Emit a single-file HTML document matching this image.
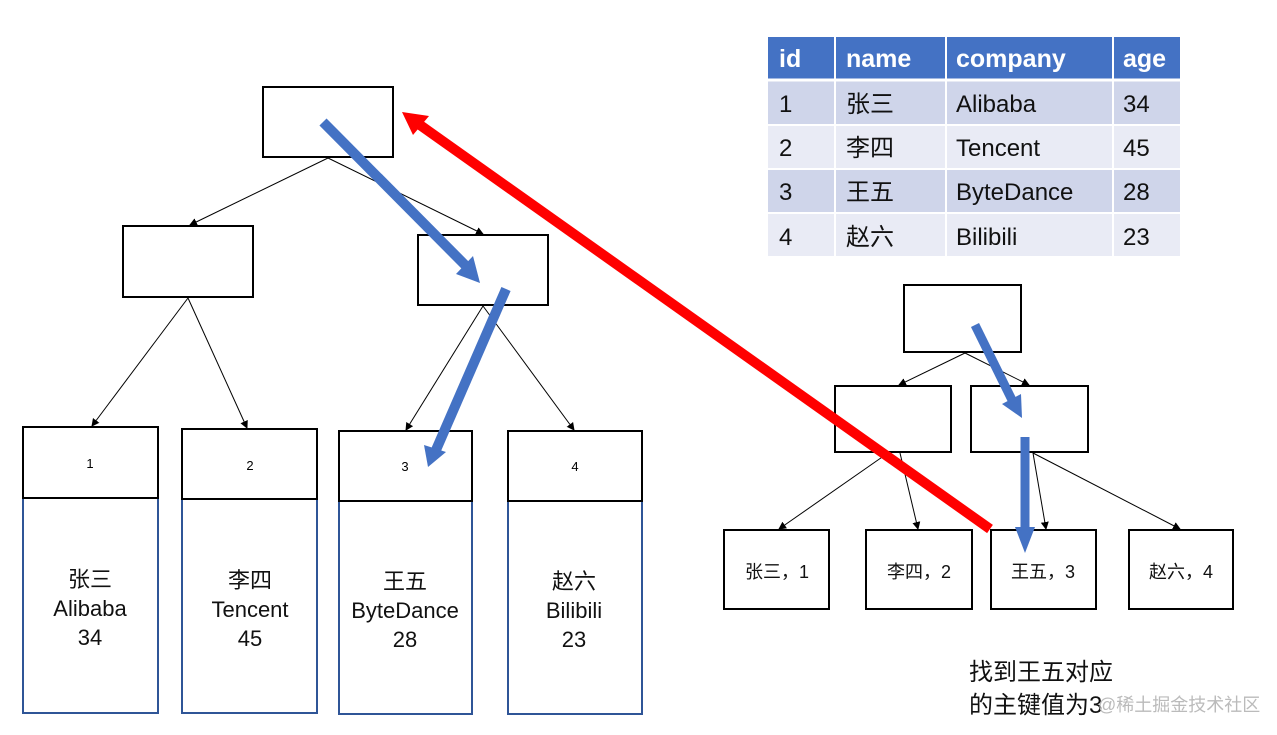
<!DOCTYPE html>
<html><head><meta charset="utf-8"><style>
html,body{margin:0;padding:0;background:#fff;}
svg{display:block;}
text{font-family:"Liberation Sans","Noto Sans CJK SC",sans-serif;}
</style></head><body>
<svg width="1277" height="735" viewBox="0 0 1277 735" xmlns="http://www.w3.org/2000/svg">
<defs>
<marker id="a" markerWidth="8" markerHeight="8" refX="7" refY="4" orient="auto" markerUnits="userSpaceOnUse"><path d="M0,0 L8,4 L0,8 z" fill="#000"/></marker>
</defs>
<rect x="768" y="37" width="412" height="42" fill="#4472c4"/>
<rect x="768" y="81" width="412" height="43" fill="#cfd5ea"/>
<rect x="768" y="126" width="412" height="42" fill="#e9ebf5"/>
<rect x="768" y="170" width="412" height="42" fill="#cfd5ea"/>
<rect x="768" y="214" width="412" height="42" fill="#e9ebf5"/>
<g stroke="#fff" stroke-width="2">
<line x1="835" y1="37" x2="835" y2="256"/><line x1="946" y1="37" x2="946" y2="256"/><line x1="1113" y1="37" x2="1113" y2="256"/>
<line x1="768" y1="80" x2="1180" y2="80" stroke-width="3"/><line x1="768" y1="125" x2="1180" y2="125"/><line x1="768" y1="169" x2="1180" y2="169"/><line x1="768" y1="213" x2="1180" y2="213"/>
</g>
<g font-size="25" fill="#fff" font-weight="bold"><text x="779" y="67">id</text><text x="846" y="67">name</text><text x="956" y="67">company</text><text x="1123" y="67">age</text></g>
<g font-size="24" fill="#111">
<text x="779" y="112">1</text><text x="846" y="112">张三</text><text x="956" y="112">Alibaba</text><text x="1123" y="112">34</text>
<text x="779" y="156">2</text><text x="846" y="156">李四</text><text x="956" y="156">Tencent</text><text x="1123" y="156">45</text>
<text x="779" y="200">3</text><text x="846" y="200">王五</text><text x="956" y="200">ByteDance</text><text x="1123" y="200">28</text>
<text x="779" y="245">4</text><text x="846" y="245">赵六</text><text x="956" y="245">Bilibili</text><text x="1123" y="245">23</text>
</g>
<g fill="#fff" stroke="#000" stroke-width="2">
<rect x="263" y="87" width="130" height="70"/>
<rect x="123" y="226" width="130" height="71"/>
<rect x="418" y="235" width="130" height="70"/>
</g>
<g stroke="#000" stroke-width="1" marker-end="url(#a)">
<line x1="328" y1="158" x2="190" y2="225"/><line x1="328" y1="158" x2="483" y2="234"/>
<line x1="188" y1="298" x2="92" y2="426"/><line x1="188" y1="298" x2="247" y2="428"/>
<line x1="483" y1="306" x2="406" y2="430"/><line x1="483" y1="306" x2="574" y2="430"/>
</g>
<g fill="none" stroke="#2f5597" stroke-width="2">
<rect x="23" y="498" width="135" height="215"/><rect x="182" y="499" width="135" height="214"/>
<rect x="339" y="501" width="133" height="213"/><rect x="508" y="501" width="134" height="213"/>
</g>
<g fill="#fff" stroke="#000" stroke-width="2">
<rect x="23" y="427" width="135" height="71"/><rect x="182" y="429" width="135" height="70"/>
<rect x="339" y="431" width="133" height="70"/><rect x="508" y="431" width="134" height="70"/>
</g>
<g font-size="13" fill="#000" text-anchor="middle"><text x="90" y="468">1</text><text x="250" y="470">2</text><text x="405" y="471">3</text><text x="575" y="471">4</text></g>
<g font-size="22" fill="#111" text-anchor="middle">
<text x="90" y="587">张三</text><text x="90" y="616">Alibaba</text><text x="90" y="645">34</text>
<text x="250" y="588">李四</text><text x="250" y="617">Tencent</text><text x="250" y="646">45</text>
<text x="405" y="589">王五</text><text x="405" y="618">ByteDance</text><text x="405" y="647">28</text>
<text x="574" y="589">赵六</text><text x="574" y="618">Bilibili</text><text x="574" y="647">23</text>
</g>
<g fill="#fff" stroke="#000" stroke-width="2">
<rect x="904" y="285" width="117" height="67"/>
<rect x="835" y="386" width="116" height="66"/><rect x="971" y="386" width="117" height="66"/>
<rect x="724" y="530" width="105" height="79"/><rect x="866" y="530" width="106" height="79"/>
<rect x="991" y="530" width="105" height="79"/><rect x="1129" y="530" width="104" height="79"/>
</g>
<g stroke="#000" stroke-width="1" marker-end="url(#a)">
<line x1="965" y1="353" x2="899" y2="385"/><line x1="965" y1="353" x2="1029" y2="385"/>
<line x1="888" y1="453" x2="779" y2="529"/><line x1="900" y1="453" x2="918" y2="529"/>
<line x1="1033" y1="453" x2="1046" y2="529"/><line x1="1033" y1="453" x2="1180" y2="529"/>
</g>
<g font-size="18" fill="#111" text-anchor="middle">
<text x="777" y="578">张三，1</text><text x="919" y="578">李四，2</text><text x="1043" y="578">王五，3</text><text x="1181" y="578">赵六，4</text>
</g>
<text x="969" y="680" font-size="24" fill="#111">找到王五对应</text>
<text x="969" y="713" font-size="24" fill="#111">的主键值为3</text>
<text x="1098" y="711" font-size="18" fill="#bbb">@稀土掘金技术社区</text>
<g fill="#4472c4" stroke="#4472c4">
<line x1="323" y1="122" x2="465" y2="265" stroke-width="10"/><polygon points="456,274 480,283 473,256" stroke="none"/>
<line x1="506" y1="289" x2="436" y2="450" stroke-width="10"/><polygon points="424,445 428,467 446,452" stroke="none"/>
<line x1="975" y1="325" x2="1012" y2="400" stroke-width="9"/><polygon points="1002,404 1022,418 1021,394" stroke="none"/>
<line x1="1025" y1="437" x2="1025" y2="530" stroke-width="9"/><polygon points="1015,527 1035,527 1025,553" stroke="none"/>
</g>
<line x1="990" y1="529" x2="420" y2="125" stroke="#ff0000" stroke-width="10"/>
<polygon points="402,112 429,116 413,135" fill="#ff0000"/>
</svg>
</body></html>
